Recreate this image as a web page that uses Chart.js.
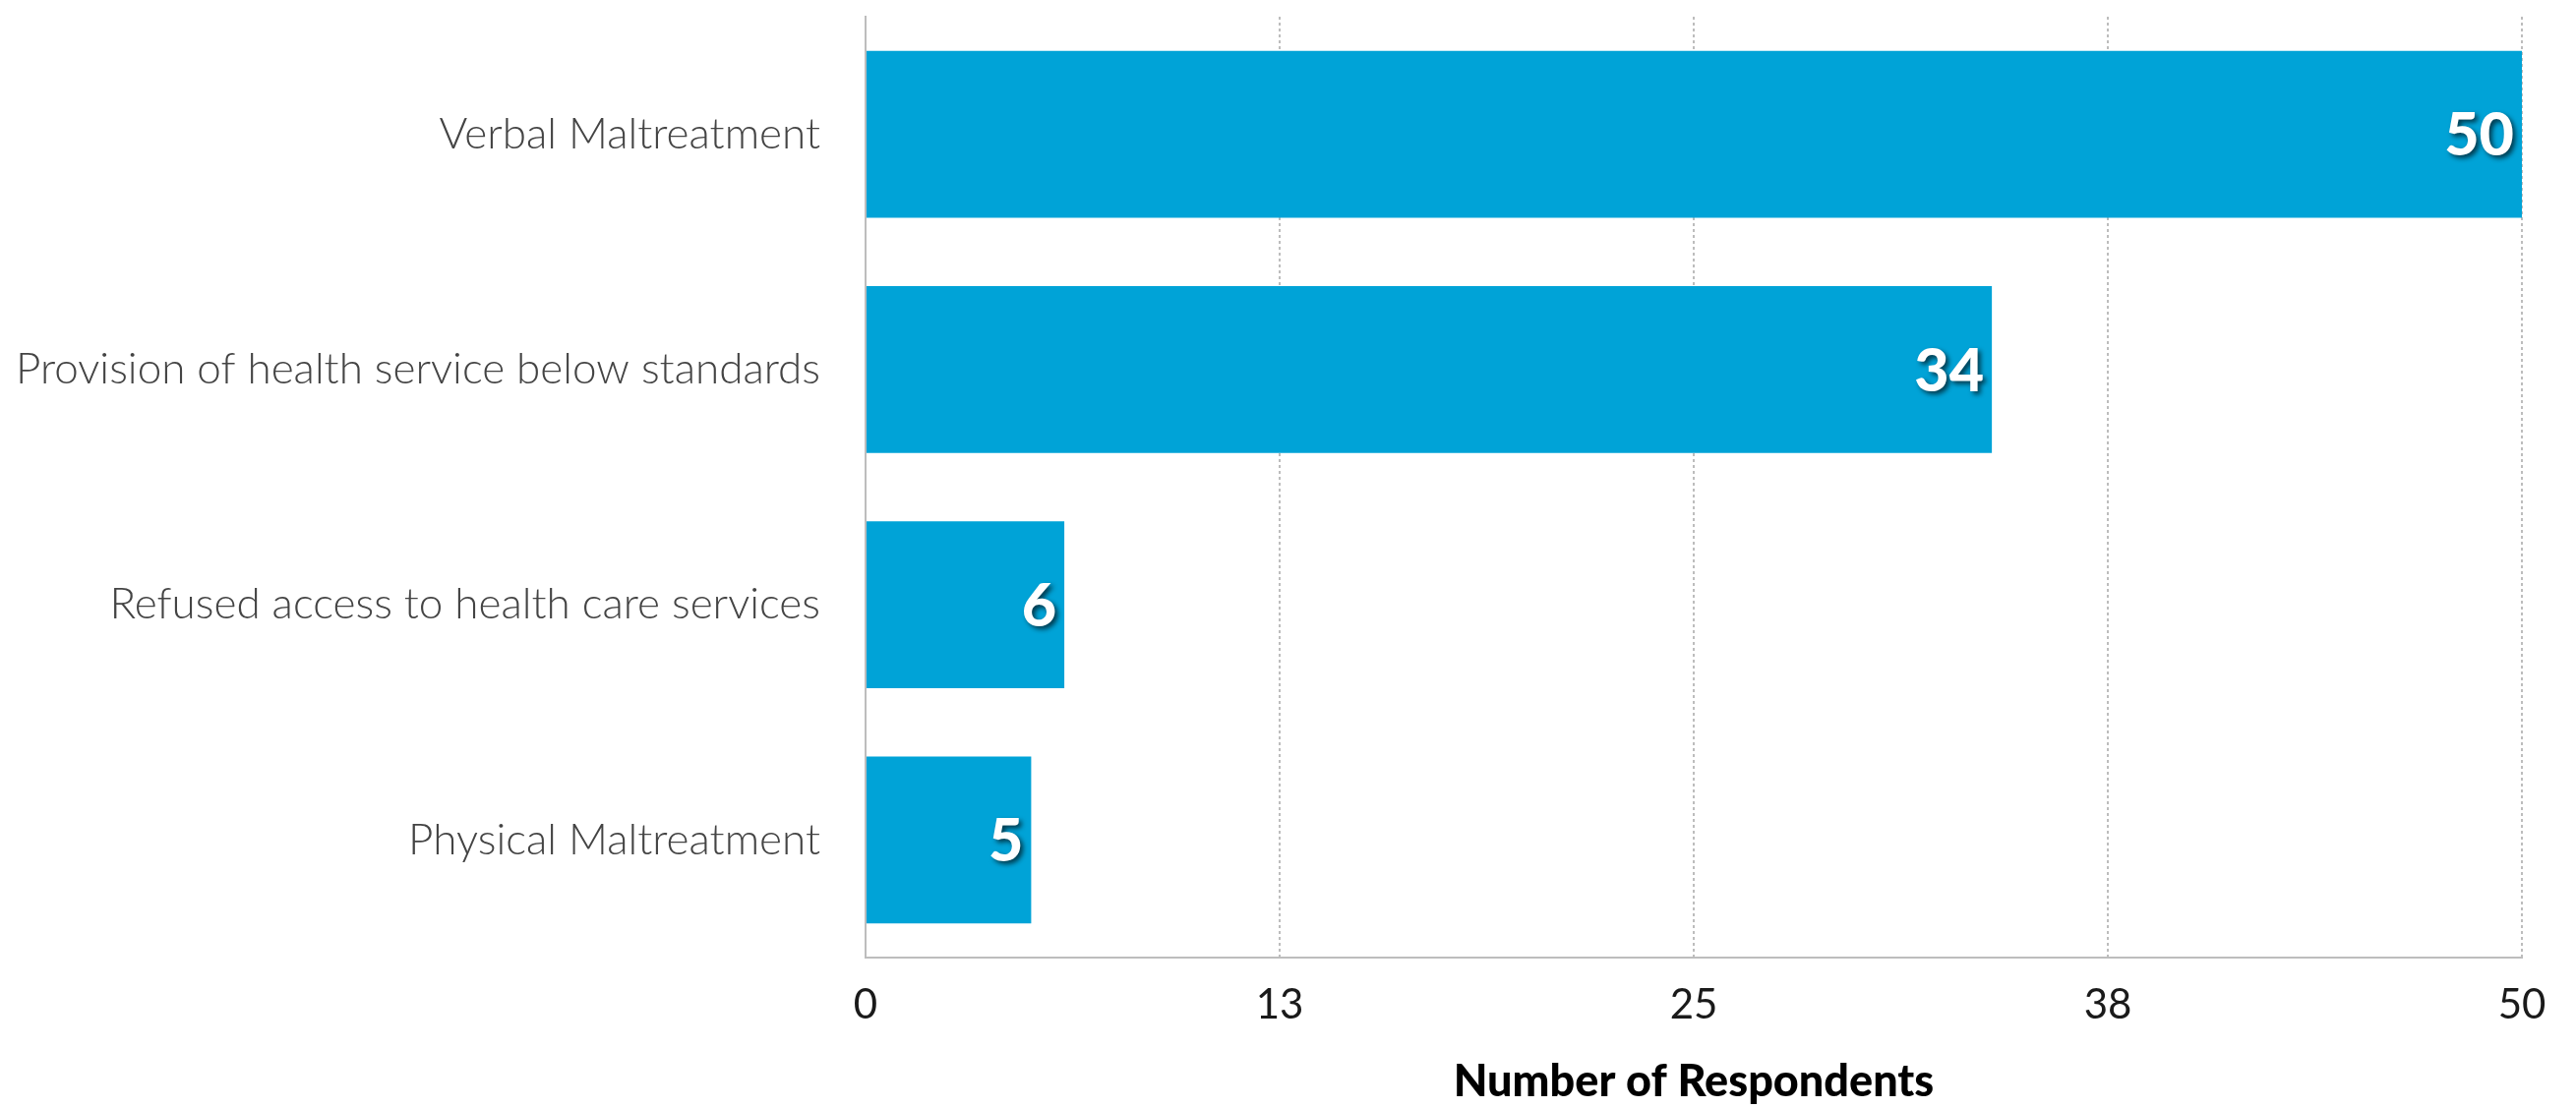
<!DOCTYPE html>
<html>
<head>
<meta charset="utf-8">
<script src="https://cdn.jsdelivr.net/npm/chart.js@4"></script>
<style>
  html, body { margin: 0; padding: 0; background: #fff; }
  #wrap { width: 2619px; height: 1127px; }
</style>
</head>
<body>
<div id="wrap"><canvas id="chart"></canvas></div>
<script>
// Data
const categories = [
    'Verbal Maltreatment',
    'Provision of health service below standards',
    'Refused access to health care services',
    'Physical Maltreatment'
];
const respondents = [50, 34, 6, 5];
const tickLabels = ['0', '13', '25', '38', '50'];

const barColor = '#00A3D7';
const gridColor = '#bdbdbd';

// Draw the white value labels inside the end of each bar
const valueLabels = {
    id: 'valueLabels',
    afterDatasetsDraw(chart) {
        const ctx = chart.ctx;
        const meta = chart.getDatasetMeta(0);
        ctx.save();
        ctx.font = '900 61px Lato';
        ctx.textAlign = 'right';
        ctx.textBaseline = 'middle';
        ctx.fillStyle = '#fff';
        ctx.shadowColor = 'rgba(0, 0, 0, 0.65)';
        ctx.shadowBlur = 5;
        ctx.shadowOffsetX = 3;
        ctx.shadowOffsetY = 3;
        meta.data.forEach((bar, i) => {
            ctx.fillText(String(respondents[i]), bar.x - 8, bar.y + 2);
        });
        ctx.restore();
    }
};

new Chart(document.getElementById('chart'), {
    type: 'bar',
    data: {
        labels: categories,
        datasets: [{
            data: respondents,
            backgroundColor: barColor,
            borderWidth: 0,
            categoryPercentage: 1,
            barPercentage: 0.71
        }]
    },
    options: {
        indexAxis: 'y',
        responsive: true,
        maintainAspectRatio: false,
        animation: false,
        layout: { padding: { top: 17, right: 55, left: 0, bottom: 0 } },
        plugins: {
            legend: { display: false },
            tooltip: { enabled: false }
        },
        scales: {
            x: {
                min: 0,
                max: 50,
                ticks: {
                    stepSize: 12.5,
                    padding: 23,
                    color: '#1a1a1a',
                    font: { family: 'Lato', size: 42, weight: 400 },
                    callback: (v, i) => tickLabels[i]
                },
                grid: {
                    color: gridColor,
                    lineWidth: 2,
                    drawTicks: false
                },
                border: {
                    display: true,
                    color: gridColor,
                    width: 2,
                    dash: [3, 3]
                },
                title: {
                    display: true,
                    text: 'Number of Respondents',
                    color: '#000',
                    font: { family: 'Lato', size: 45, weight: 900 },
                    padding: { top: 0, bottom: 0 }
                },
                afterFit(scale) {
                    scale.height = 153;
                    scale.paddingLeft = 0;
                    scale.paddingRight = 0;
                }
            },
            y: {
                ticks: {
                    padding: 46,
                    color: '#444',
                    font: { family: 'Lato', size: 44, weight: 300 }
                },
                grid: { display: false, drawTicks: false },
                border: { display: true, color: gridColor, width: 2 },
                afterFit(scale) {
                    scale.width = 880;
                    scale.paddingTop = 0;
                    scale.paddingBottom = 0;
                }
            }
        }
    },
    plugins: [valueLabels]
});
</script>
</body>
</html>
